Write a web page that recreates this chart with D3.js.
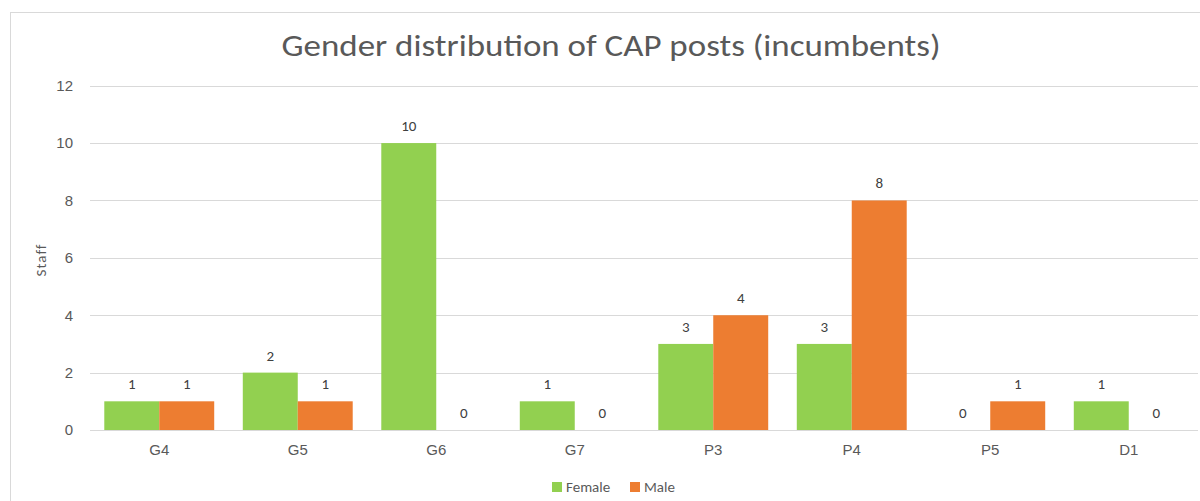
<!DOCTYPE html>
<html>
<head>
<meta charset="utf-8">
<script src="https://cdn.jsdelivr.net/npm/d3@7.9.0/dist/d3.min.js"></script>
<style>
  body { margin: 0; background: #fff; }
  svg { display: block; font-family: Calibri, Carlito, "Open Sans", "Noto Sans", sans-serif; }
</style>
</head>
<body>
<div id="chart"></div>
<script>
// data
const grades = ["G4", "G5", "G6", "G7", "P3", "P4", "P5", "D1"];
const female = [1, 2, 10, 1, 3, 3, 0, 1];
const male = [1, 1, 0, 0, 4, 8, 1, 0];
const seriesNames = ["Female", "Male"];
const yTicks = [0, 2, 4, 6, 8, 10, 12];

const width = 1200;
const height = 501;
const colors = { Female: "#92D050", Male: "#ED7D31" };
const textColor = "#595959";

// plot area
const area = { left: 90, right: 1198, top: 85.7, bottom: 430 };

const rows = grades.map((g, i) => ({ grade: g, Female: female[i], Male: male[i] }));

const svg = d3.select("#chart").append("svg")
  .attr("width", width)
  .attr("height", height);

// outer chart border
svg.append("rect")
  .attr("x", 10.5).attr("y", 12.5)
  .attr("width", 1200).attr("height", 520)
  .attr("fill", "none")
  .attr("stroke", "#d9d9d9");

const x0 = d3.scaleBand()
  .domain(grades)
  .range([area.left, area.right])
  .padding(0);

const x1 = d3.scaleBand()
  .domain(seriesNames)
  .range([0, x0.bandwidth()])
  .paddingInner(0)
  .paddingOuter(0.26);

const y = d3.scaleLinear()
  .domain([0, 12])
  .range([area.bottom, area.top]);

// gridlines
svg.append("g")
  .selectAll("line")
  .data(yTicks)
  .join("line")
  .attr("x1", area.left)
  .attr("x2", area.right)
  .attr("y1", d => Math.round(y(d)) + 0.5)
  .attr("y2", d => Math.round(y(d)) + 0.5)
  .attr("stroke", "#d9d9d9")
  .attr("stroke-width", 1);

// y axis labels
const yAxis = svg.append("g")
  .attr("transform", `translate(${area.left},0)`)
  .call(d3.axisLeft(y).tickValues(yTicks).tickSize(0).tickPadding(17));
yAxis.select(".domain").remove();
yAxis.selectAll("text")
  .attr("fill", textColor)
  .style("font-size", "15px");

// x axis labels
const xAxis = svg.append("g")
  .attr("transform", `translate(0,${area.bottom})`)
  .call(d3.axisBottom(x0).tickSize(0).tickPadding(14));
xAxis.select(".domain").remove();
xAxis.selectAll("text")
  .attr("fill", textColor)
  .style("font-size", "15px");

// bars
const groups = svg.append("g")
  .selectAll("g")
  .data(rows)
  .join("g")
  .attr("transform", d => `translate(${x0(d.grade)},0)`);

const cells = groups.selectAll("g")
  .data(d => seriesNames.map(k => ({ key: k, value: d[k] })))
  .join("g");

cells.append("rect")
  .attr("x", d => x1(d.key))
  .attr("width", x1.bandwidth())
  .attr("y", d => y(d.value))
  .attr("height", d => y(0) - y(d.value))
  .attr("fill", d => colors[d.key]);

cells.append("text")
  .attr("x", d => x1(d.key) + x1.bandwidth() / 2)
  .attr("y", d => y(d.value) - 12)
  .attr("text-anchor", "middle")
  .attr("fill", "#404040")
  .style("font-size", "15px")
  .text(d => d.value);

// title
svg.append("text")
  .attr("x", 611)
  .attr("y", 56)
  .attr("text-anchor", "middle")
  .attr("fill", textColor)
  .style("font-size", "31px")
  .attr("textLength", 659)
  .attr("lengthAdjust", "spacingAndGlyphs")
  .text("Gender distribution of CAP posts (incumbents)");

// y axis title
svg.append("text")
  .attr("transform", "translate(46,260) rotate(-90)")
  .attr("text-anchor", "middle")
  .attr("fill", textColor)
  .style("font-size", "15px")
  .style("letter-spacing", "1px")
  .text("Staff");

// legend
const legend = svg.append("g")
  .selectAll("g")
  .data(seriesNames)
  .join("g")
  .attr("transform", (d, i) => `translate(${[552, 630][i]},487)`);

legend.append("rect")
  .attr("x", 0).attr("y", -5)
  .attr("width", 10).attr("height", 10)
  .attr("fill", d => colors[d]);

legend.append("text")
  .attr("x", 14)
  .attr("y", 5)
  .attr("fill", textColor)
  .style("font-size", "15px")
  .text(d => d);
</script>
</body>
</html>
